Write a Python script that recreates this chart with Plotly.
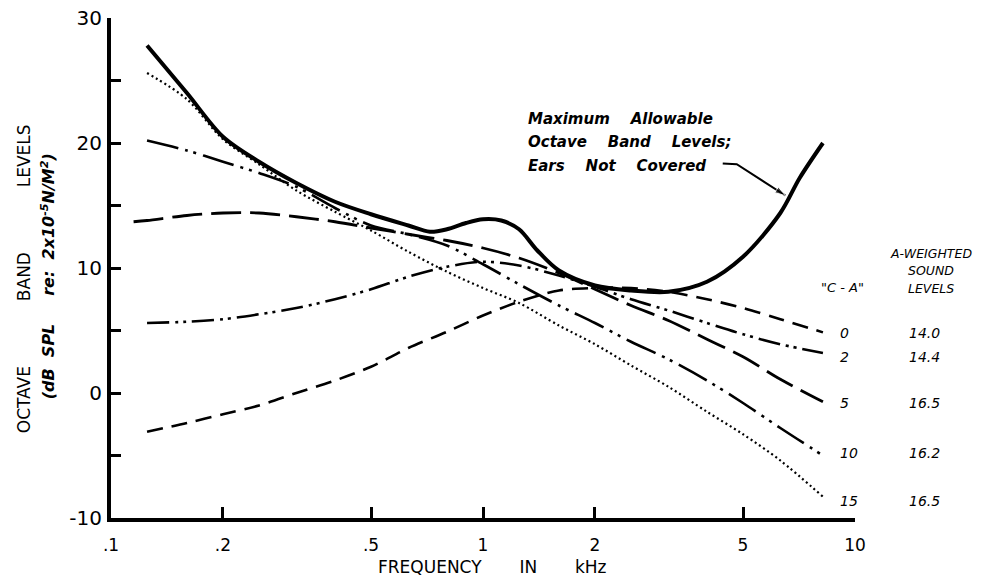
import plotly.graph_objects as go

# ---------------- data ----------------
max_freq = [0.125, 0.16, 0.2, 0.25, 0.315, 0.4, 0.5, 0.63, 0.72, 0.8, 0.9, 1.0, 1.12, 1.25, 1.4,
            1.6, 2.0, 2.5, 3.15, 4.0, 5.0, 6.3, 7.1, 8.2]
max_level = [27.8, 24.0, 20.5, 18.5, 16.8, 15.3, 14.3, 13.4, 12.9, 13.1, 13.6, 13.9, 13.8, 13.1, 11.4,
             9.8, 8.6, 8.2, 8.1, 8.9, 10.9, 14.4, 17.2, 20.0]

freq = [0.125, 0.16, 0.2, 0.25, 0.315, 0.4, 0.5, 0.63, 0.8, 1.0, 1.25, 1.6, 2.0, 2.5, 3.15,
        4.0, 5.0, 6.3, 8.2]

ca0_level = [-3.1, -2.4, -1.7, -1.0, 0.0, 1.0, 2.1, 3.6, 4.9, 6.2, 7.3, 8.2, 8.4, 8.4, 8.1,
             7.5, 6.8, 5.9, 4.85]
ca2_level = [5.6, 5.7, 5.9, 6.3, 6.8, 7.5, 8.3, 9.3, 10.1, 10.5, 10.2, 9.4, 8.5, 7.5, 6.6,
             5.6, 4.7, 3.9, 3.2]
ca5_freq = [0.115] + freq
ca5_level = [13.7, 13.8, 14.2, 14.4, 14.4, 14.1, 13.7, 13.2, 12.7, 12.2, 11.6, 10.8, 9.6, 8.3, 7.0,
             5.8, 4.3, 2.9, 1.1, -0.7]
ca10_level = [20.2, 19.4, 18.5, 17.6, 16.5, 14.8, 13.4, 12.7, 11.8, 10.3, 8.7, 7.0, 5.6, 4.1, 2.7,
              1.0, -0.8, -2.8, -5.0]
ca15_level = [25.6, 23.5, 20.3, 18.3, 16.2, 14.5, 13.0, 11.3, 9.7, 8.4, 7.2, 5.4, 3.9, 2.2, 0.5,
              -1.5, -3.3, -5.4, -8.3]

ca_labels = ["0", "2", "5", "10", "15"]
a_weighted = ["14.0", "14.4", "16.5", "16.2", "16.5"]
label_y = [4.8, 2.9, -0.8, -4.8, -8.6]

x_tickvals = [0.1, 0.2, 0.5, 1, 2, 5, 10]
x_ticktext = [".1", ".2", ".5", "1", "2", "5", "10"]
y_tickvals = [-10, 0, 10, 20, 30]
y_ticktext = ["-10", "0", "10", "20", "30"]

note_lines = ["Maximum{s}Allowable", "Octave{s}Band{s}Levels;", "Ears{s}Not{s}Covered"]
note_y = [21.9, 20.05, 18.2]

header_lines = ["A-WEIGHTED", "SOUND", "LEVELS"]

# pointer from the note to the maximum-level curve (kHz, dB)
pointer_f = [4.41, 4.81, 6.5]
pointer_db = [18.37, 18.3, 15.8]

# ---------------- figure ----------------
fig = go.Figure()

series = [
    (freq, ca0_level, "16px,9px", 2.6),
    (freq, ca2_level, "22px,6px,3px,5px,3px,6px", 2.6),
    (ca5_freq, ca5_level, "30px,9px", 2.8),
    (freq, ca10_level, "32px,7px,3px,6px,3px,7px", 2.6),
    (freq, ca15_level, "2px,3px", 2.2),
]
for xs, ys, dash, w in series:
    fig.add_trace(go.Scatter(x=xs, y=ys, mode="lines",
                             line=dict(color="black", width=w, dash=dash, shape="spline", smoothing=0.9),
                             hoverinfo="skip"))

fig.add_trace(go.Scatter(x=max_freq, y=max_level, mode="lines",
                         line=dict(color="black", width=4, shape="spline", smoothing=0.9),
                         hoverinfo="skip"))

fig.add_trace(go.Scatter(x=pointer_f, y=pointer_db, mode="lines+markers",
                         line=dict(color="black", width=2),
                         marker=dict(symbol=["circle", "circle", "arrow"], size=[0, 0, 11],
                                     angleref="previous", color="black"),
                         hoverinfo="skip"))

FONT = "DejaVu Sans"
nb = "\u00a0"
PW = 744.0  # plot width in px
PH = 500.5  # plot height in px


def px_to_paper(px):
    return (px - 111) / PW


def py_to_paper(py):
    return (518 - py) / PH


annotations = []
# y axis title (two rotated lines)
annotations.append(dict(xref="paper", yref="paper", x=px_to_paper(24), y=py_to_paper(279),
                        text=f"OCTAVE{nb*12}BAND{nb*12}LEVELS", textangle=-90, showarrow=False,
                        font=dict(family=FONT, size=17, color="black"), xanchor="center", yanchor="middle"))
annotations.append(dict(xref="paper", yref="paper", x=px_to_paper(48), y=py_to_paper(276),
                        text=(f"<b><i>(dB{nb*2}SPL{nb*5}re:{nb*2}2x10<sup>-5</sup>N/M<sup>2</sup>)</i></b>"),
                        textangle=-90, showarrow=False,
                        font=dict(family=FONT, size=16, color="black"), xanchor="center", yanchor="middle"))

# x axis title
annotations.append(dict(xref="paper", yref="paper", x=px_to_paper(492), y=py_to_paper(567),
                        text=f"FREQUENCY{nb*7}IN{nb*7}kHz", showarrow=False,
                        xanchor="center", yanchor="middle",
                        font=dict(family=FONT, size=17, color="black")))

# curve description
for line, yy in zip(note_lines, note_y):
    annotations.append(dict(xref="paper", yref="y", x=px_to_paper(526), y=yy,
                            text="<b><i>" + line.format(s=nb * 4) + "</i></b>",
                            showarrow=False, align="left", xanchor="left", yanchor="middle",
                            font=dict(family=FONT, size=15, color="black")))

# right-hand labels
annotations.append(dict(xref="paper", yref="paper", x=px_to_paper(842), y=py_to_paper(287),
                        xanchor="center", yanchor="middle",
                        text=f'<i>"C{nb}-{nb}A"</i>', showarrow=False,
                        font=dict(family=FONT, size=13, color="black")))
for txt, py in zip(header_lines, [253, 270, 288]):
    annotations.append(dict(xref="paper", yref="paper", x=px_to_paper(931), y=py_to_paper(py),
                            xanchor="center", yanchor="middle",
                            text=f"<i>{txt}</i>", showarrow=False,
                            font=dict(family=FONT, size=12.5, color="black")))
for lab, val, yy in zip(ca_labels, a_weighted, label_y):
    annotations.append(dict(xref="paper", yref="y", x=px_to_paper(838), y=yy, xanchor="left",
                            text=f"<i>{lab}</i>", showarrow=False,
                            font=dict(family=FONT, size=14, color="black")))
    annotations.append(dict(xref="paper", yref="y", x=px_to_paper(925), y=yy, xanchor="center",
                            text=f"<i>{val}</i>", showarrow=False,
                            font=dict(family=FONT, size=14, color="black")))

fig.update_layout(
    width=982, height=577,
    margin=dict(l=111, r=127, t=17.5, b=59, autoexpand=False),
    paper_bgcolor="white", plot_bgcolor="white",
    showlegend=False,
    hovermode=False,
    annotations=annotations,
    xaxis=dict(type="log", range=[-1, 1], tickvals=x_tickvals, ticktext=x_ticktext,
               ticks="inside", ticklen=11, tickwidth=3, tickcolor="black", automargin=False,
               showline=True, linewidth=4, linecolor="black", showgrid=False, zeroline=False,
               ticklabelstandoff=9, ticklabeloverflow="allow",
               tickfont=dict(family=FONT, size=17, color="black")),
    yaxis=dict(range=[-10, 30], tickvals=y_tickvals, ticktext=y_ticktext, automargin=False,
               ticks="inside", ticklen=10, tickwidth=3, tickcolor="black",
               minor=dict(tickvals=[-5, 5, 15, 25], ticks="inside", ticklen=10, tickwidth=3,
                          tickcolor="black", showgrid=False),
               showline=True, linewidth=4, linecolor="black", showgrid=False, zeroline=False,
               ticklabelstandoff=1, ticklabeloverflow="allow",
               tickfont=dict(family=FONT, size=20, color="black")),
)

# remove the default page margin so the figure sits at the window's top-left corner
fig.write_html("out.html", config={"displayModeBar": False},
               post_script="document.body.style.margin='0px';")
